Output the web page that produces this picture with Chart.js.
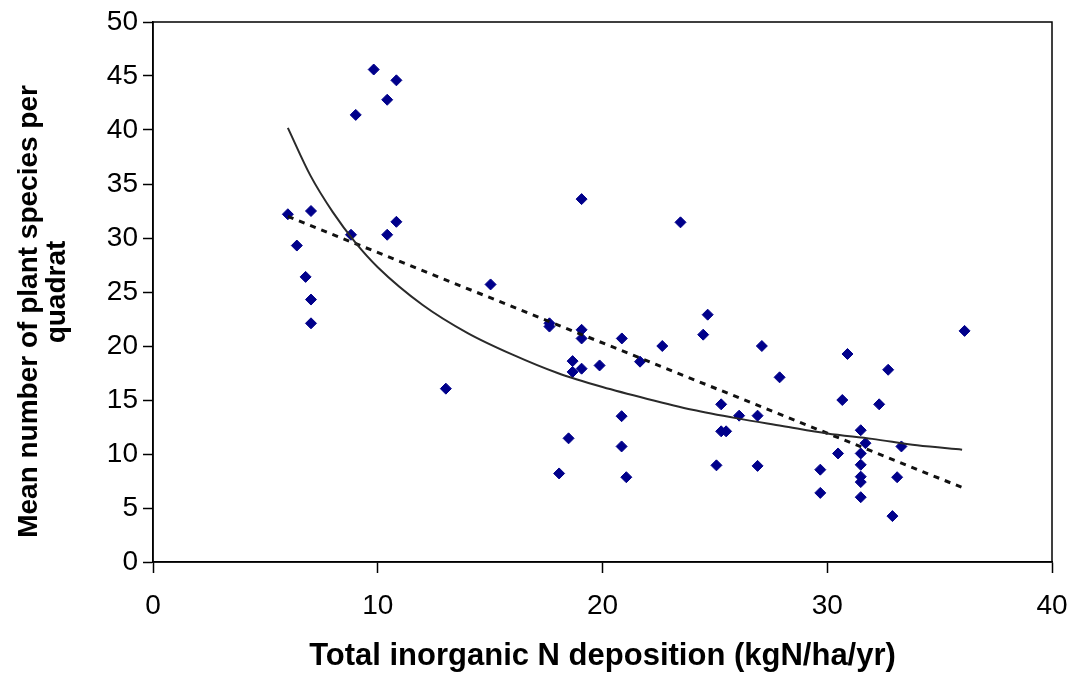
<!DOCTYPE html>
<html>
<head>
<meta charset="utf-8">
<script src="https://cdn.jsdelivr.net/npm/chart.js@4/dist/chart.umd.min.js"></script>
<style>
    html, body { margin: 0; padding: 0; background: #fff; }
    #wrap { width: 1071px; height: 674px; }
</style>
</head>
<body>
<div id="wrap"><canvas id="plantChart" width="1071" height="674"></canvas></div>
<script>
// Sitios observados: deposición de N (x) y especies por cuadrante (y)
const depositionX = [
    9.82, 10.83, 10.42, 9.02, 6.0, 7.03, 10.83, 8.81, 10.42, 6.4, 6.79, 7.03, 7.03,
    19.07, 23.47, 15.02, 24.68, 24.48, 17.64, 17.64, 19.07, 19.07, 20.86, 22.66,
    18.67, 18.67, 19.07, 19.87, 21.67, 13.03, 25.28, 20.85, 18.49, 20.85, 25.28, 25.5,
    25.07, 18.07, 21.06,
    27.09, 30.9, 36.11, 32.71, 27.88, 30.67, 32.31, 26.08, 26.9, 31.49, 31.7, 33.3,
    31.49, 30.48, 31.49, 26.9, 29.69, 31.49, 31.49, 33.11, 29.69, 31.49, 32.9
];
const speciesY = [
    45.6, 44.6, 42.8, 41.4, 32.2, 32.5, 31.5, 30.3, 30.3, 29.3, 26.4, 24.3, 22.1,
    33.6, 31.45, 25.7, 22.9, 21.05, 22.1, 21.8, 21.5, 20.7, 20.7, 20.0,
    18.6, 17.6, 17.9, 18.2, 18.55, 16.05, 14.6, 13.5, 11.45, 10.7, 12.1, 12.1,
    8.95, 8.2, 7.85,
    20.0, 19.26, 21.4, 17.8, 17.1, 15.0, 14.6, 13.55, 13.55, 12.2, 11.0, 10.7,
    10.05, 10.05, 9.0, 8.9, 8.55, 7.9, 7.4, 7.85, 6.4, 6.0, 4.25
];

// Línea de tendencia potencial
const powerTrendX = [6, 7, 8, 9, 10, 12, 14, 16, 18, 20, 22, 24, 26, 28, 30, 32, 34, 36];
const powerTrendY = [40.2, 35.8, 32.4, 29.6, 27.3, 23.8, 21.2, 19.2, 17.5, 16.2, 15.1, 14.1, 13.3, 12.6, 11.9, 11.4, 10.8, 10.4];

// Línea de tendencia lineal (punteada)
const linearTrendX = [6, 36];
const linearTrendY = [32.0, 6.9];

const xTicks = [0, 10, 20, 30, 40];
const yTicks = [0, 5, 10, 15, 20, 25, 30, 35, 40, 45, 50];

const xTitle = 'Total inorganic N deposition (kgN/ha/yr)';
// espacios al final para bajar un poco la primera línea, como en el original
const yTitle = ['Mean number of plant species per     ', 'quadrat'];

function toPoints(xs, ys) {
    return xs.map((x, i) => ({ x: x, y: ys[i] }));
}

// Marco alrededor del área del gráfico
const frameBox = {
    id: 'frameBox',
    afterDatasetsDraw(chart) {
        const { ctx, chartArea } = chart;
        ctx.save();
        ctx.strokeStyle = '#000';
        ctx.lineWidth = 1.5;
        ctx.strokeRect(chartArea.left, chartArea.top, chartArea.right - chartArea.left, chartArea.bottom - chartArea.top);
        ctx.restore();
    }
};

const fontFamily = '"Liberation Sans", Arial, Helvetica, sans-serif';

new Chart(document.getElementById('plantChart').getContext('2d'), {
    type: 'scatter',
    data: {
        datasets: [
            {
                label: 'Power trend',
                type: 'line',
                data: toPoints(powerTrendX, powerTrendY),
                borderColor: '#2a2a2a',
                borderWidth: 2,
                cubicInterpolationMode: 'monotone',
                pointRadius: 0,
                fill: false,
                order: 0
            },
            {
                label: 'Linear trend',
                type: 'line',
                data: toPoints(linearTrendX, linearTrendY),
                borderColor: '#111',
                borderWidth: 3,
                borderDash: [6, 6],
                pointRadius: 0,
                fill: false,
                order: 0
            },
            {
                label: 'Sites',
                data: toPoints(depositionX, speciesY),
                pointStyle: 'rectRot',
                pointRadius: 5.5,
                backgroundColor: '#00008B',
                borderColor: '#00008B',
                borderWidth: 1,
                order: 1
            }
        ]
    },
    options: {
        responsive: false,
        animation: false,
        devicePixelRatio: 1,
        layout: { padding: { top: 22, right: 19, left: 0, bottom: 0 } },
        plugins: {
            legend: { display: false },
            tooltip: { enabled: false }
        },
        scales: {
            x: {
                type: 'linear',
                min: 0,
                max: 40,
                afterBuildTicks: function(scale) {
                    scale.ticks = xTicks.map(v => ({ value: v }));
                },
                afterFit: function(scale) {
                    scale.height = 112;
                    scale.paddingLeft = 0;
                    scale.paddingRight = 12;
                },
                ticks: {
                    color: '#000',
                    font: { family: fontFamily, size: 28 },
                    padding: 16
                },
                grid: {
                    drawOnChartArea: false,
                    tickLength: 11,
                    color: '#000',
                    tickWidth: 1.5
                },
                border: { display: true, color: '#000', width: 1.5 },
                title: {
                    display: true,
                    text: xTitle,
                    color: '#000',
                    font: { family: fontFamily, size: 31, weight: 'bold', lineHeight: 1.1 },
                    padding: { top: 0, bottom: 0 }
                }
            },
            y: {
                type: 'linear',
                min: 0,
                max: 50,
                afterBuildTicks: function(scale) {
                    scale.ticks = yTicks.map(v => ({ value: v }));
                },
                afterFit: function(scale) { scale.width = 153; },
                ticks: {
                    color: '#000',
                    font: { family: fontFamily, size: 28 },
                    padding: 5
                },
                grid: {
                    drawOnChartArea: false,
                    tickLength: 10,
                    color: '#000',
                    tickWidth: 1.5
                },
                border: { display: true, color: '#000', width: 1.5 },
                title: {
                    display: true,
                    text: yTitle,
                    color: '#000',
                    font: { family: fontFamily, size: 28, weight: 'bold', lineHeight: 1.0 },
                    padding: { top: 15, bottom: 0 }
                }
            }
        }
    },
    plugins: [frameBox]
});
</script>
</body>
</html>
